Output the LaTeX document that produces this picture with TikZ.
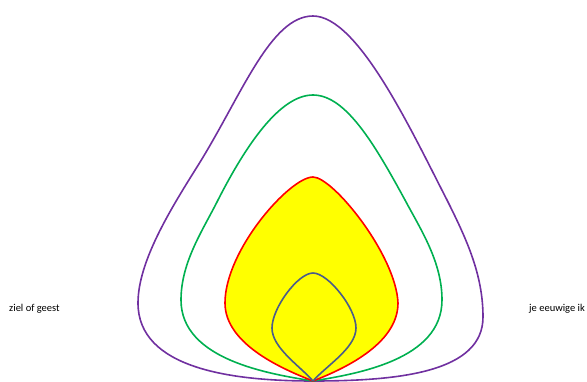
\documentclass[tikz,border=0pt]{standalone}
\usepackage{fontspec}
\setmainfont{Carlito}
\definecolor{geestpurple}{HTML}{7030A0}
\definecolor{geestgreen}{HTML}{00B050}
\definecolor{geestred}{HTML}{FF0000}
\definecolor{geestyellow}{HTML}{FFFF00}
\definecolor{geestblue}{HTML}{4A5C8A}
\begin{document}
\begin{tikzpicture}[x=1pt, y=-1pt,
		shell/.style={line width=1.6pt, line join=round},
		label/.style={anchor=base west, inner sep=0pt, font=\fontsize{10.5}{12}\selectfont}]
		\useasboundingbox (0, 0) rectangle (587, 381);

		% Outer shell
		\draw[shell, geestpurple] (313, 381)
			.. controls (230, 381) and (138, 368) .. (138, 303)
			.. controls (138, 262) and (170, 210) .. (197, 167)
			.. controls (241, 97) and (270, 16) .. (313, 16)
			.. controls (358, 16) and (411, 130) .. (447, 200)
			.. controls (467, 240) and (483, 275) .. (483, 317)
			.. controls (483, 372) and (400, 381) .. (313, 381);

		% Second shell
		\draw[shell, geestgreen] (313, 381)
			.. controls (270, 374) and (181, 360) .. (181, 300)
			.. controls (181, 262) and (203, 230) .. (218, 200)
			.. controls (246, 145) and (280, 95) .. (313, 95)
			.. controls (346, 95) and (375, 145) .. (405, 200)
			.. controls (421, 230) and (442, 262) .. (442, 300)
			.. controls (442, 360) and (356, 374) .. (313, 381);

		% Flame
		\draw[shell, geestred, fill=geestyellow] (313, 381)
			.. controls (285, 370) and (225, 345) .. (225, 303)
			.. controls (225, 250) and (290, 177) .. (313, 177)
			.. controls (333, 177) and (396, 255) .. (398, 303)
			.. controls (398, 345) and (341, 370) .. (313, 381);

		% Core
		\draw[shell, geestblue] (313, 381)
			.. controls (300, 366) and (272, 348) .. (272, 328)
			.. controls (272, 308) and (298, 273) .. (313, 273)
			.. controls (328, 273) and (356, 308) .. (356, 328)
			.. controls (356, 348) and (326, 366) .. (313, 381);

		% Labels
		\node[label] (ziel) at (9, 311) {ziel of geest};
		\node[label] (ik) at (529, 311) {je eeuwige ik};
	\end{tikzpicture}
\end{document}
